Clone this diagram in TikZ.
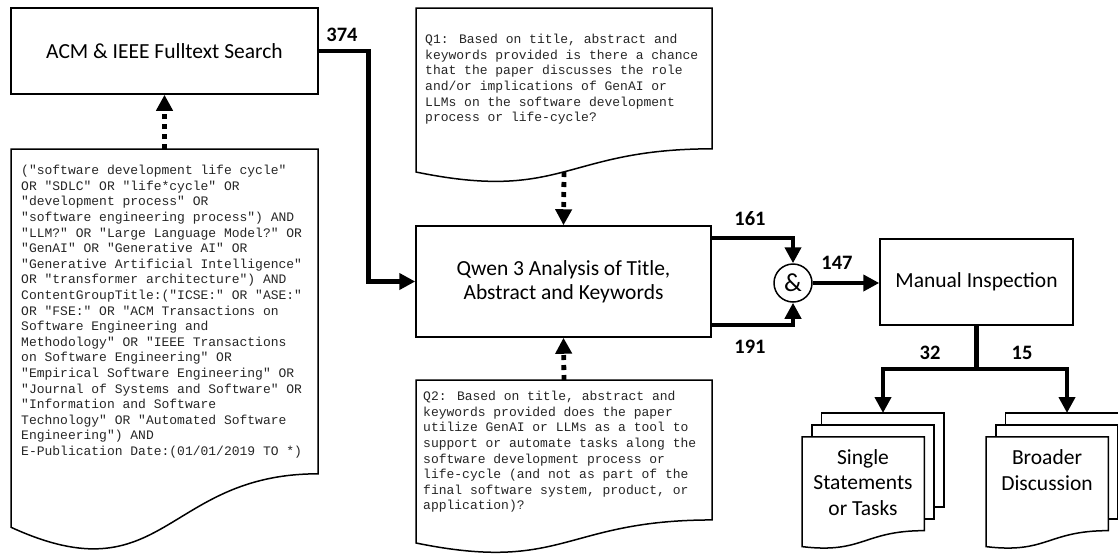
\documentclass[tikz,border=0pt]{standalone}
\usepackage{fontspec}
\setmainfont{Carlito}
\newfontfamily\monof{Liberation Mono}
\usetikzlibrary{arrows.meta}
\newcommand\mydoc[4]{% x1, top, x2, h
  \draw[box] (#1,#2) -- (#3,#2) -- (#3,{#2+0.802*#4})
    .. controls ({(#1+#3)/2},{#2+0.802*#4}) and ({(#1+#3)/2},{#2+1.1075*#4}) ..
    (#1,{#2+0.934*#4}) -- cycle;}
\newcommand\mymulti[2]{% x0, y0
  \begin{scope}[xshift=#1pt,yshift=-#2pt,x=0.6574pt,y=-0.6528pt]
    \draw[box] (29.72,0) -- (216,0) -- (216,143.92) -- (200.72,143.92) -- (200.72,18.15) -- (29.72,18.15) -- cycle;
    \draw[box] (15.32,18.15) -- (200.72,18.15) -- (200.72,162.52) -- (185.95,162.52) -- (185.95,36.75) -- (15.32,36.75) -- cycle;
    \draw[box] (0,36.75) -- (185.95,36.75) -- (185.95,180.22)
      .. controls (92.98,180.22) and (92.98,216) .. (0,204.67) -- cycle;
  \end{scope}}
\begin{document}
\begin{tikzpicture}[x=1pt,y=-1pt,
  box/.style={draw,line width=1.5pt,fill=white},
  lbl/.style={font=\fontsize{20.5}{24}\selectfont\bfseries,inner sep=0pt},
  conn/.style={line width=4.8pt,-{Triangle[length=16pt,width=16pt]}},
  dotconn/.style={line width=4.8pt,dash pattern=on 5pt off 5pt,-{Triangle[length=16pt,width=16pt]}},
  mono/.style={font=\monof\fontsize{13}{15.6}\selectfont,align=left,anchor=north west,inner sep=0pt,text=black!85},
  btext/.style={font=\fontsize{21.5}{24}\selectfont,align=center,inner sep=0pt},
]
\useasboundingbox (0,0) rectangle (1118,557);
\clip (0,0) rectangle (1118,557);
\fill[white] (0,0) rectangle (1118,557);

% boxes
\node[box,btext,minimum width=307pt,minimum height=86pt] (acm) at (164.5,51) {ACM \& IEEE Fulltext Search};
\node[box,btext,minimum width=295pt,minimum height=111pt] (qwen) at (563.5,281.5) {Qwen 3 Analysis of Title,\\Abstract and Keywords};
\node[box,btext,minimum width=193pt,minimum height=86pt] (manual) at (976.5,282) {Manual Inspection};
\node[draw,circle,line width=1.5pt,minimum size=38pt,inner sep=0pt,font=\fontsize{26}{30}\selectfont] (and) at (793,283) {\&};

% documents
\mydoc{11}{149}{318}{405}
\mydoc{416}{8}{712}{175.6}
\mydoc{416}{380}{712}{174.5}
\coordinate (qtop) at (164.5,149);
\coordinate (q1bot) at (564,172);
\coordinate (q2top) at (564,380);

\node[mono] (query) at (21,164.5) {\rule{0pt}{10pt}("software development life cycle"\\
OR "SDLC" OR "life*cycle" OR\\
"development process" OR\\
"software engineering process") AND\\
"LLM?" OR "Large Language Model?" OR\\
"GenAI" OR "Generative AI" OR\\
"Generative Artificial Intelligence"\\
OR "transformer architecture") AND\\
ContentGroupTitle:("ICSE:" OR "ASE:"\\
OR "FSE:" OR "ACM Transactions on\\
Software Engineering and\\
Methodology" OR "IEEE Transactions\\
on Software Engineering" OR\\
"Empirical Software Engineering" OR\\
"Journal of Systems and Software" OR\\
"Information and Software\\
Technology" OR "Automated Software\\
Engineering") AND\\
E-Publication Date:(01/01/2019 TO *)};

\node[mono] (q1) at (425,33.5) {\rule{0pt}{10pt}Q1: Based on title, abstract and\\
keywords provided is there a chance\\
that the paper discusses the role\\
and/or implications of GenAI or\\
LLMs on the software development\\
process or life-cycle?};

\node[mono] (q2) at (423,390.5) {\rule{0pt}{10pt}Q2: Based on title, abstract and\\
keywords provided does the paper\\
utilize GenAI or LLMs as a tool to\\
support or automate tasks along the\\
software development process or\\
life-cycle (and not as part of the\\
final software system, product, or\\
application)?};

% multi documents
\mymulti{802}{413}
\mymulti{986}{413}
\coordinate (s1top) at (883,413);
\coordinate (s2top) at (1067,413);
\node[btext,font=\fontsize{21.5}{25.5}\selectfont] (single) at (863,482.5) {Single\\Statements\\or Tasks};
\node[btext,font=\fontsize{21.5}{25.5}\selectfont] (broader) at (1047,470) {Broader\\Discussion};

% connectors
\draw[dotconn] (qtop) -- (acm.south);
\draw[dotconn] (q1bot) -- (qwen.north);
\draw[dotconn] (q2top) -- (qwen.south);
\draw[conn] (acm.east) -- ++(50,0) |- (qwen.west);
\draw[conn] ([yshift=43.5pt]qwen.east) -| (and.north);
\draw[conn] ([yshift=-43.5pt]qwen.east) -| (and.south);
\draw[conn] (and.east) -- (manual.west |- and.east);
\coordinate (split) at (976.5,369);
\draw[line width=4.8pt] (manual.south) -- (split);
\draw[line width=4.8pt,{Triangle[length=16pt,width=16pt]}-{Triangle[length=16pt,width=16pt]}] (s1top) |- (split) -| (s2top);

% labels
\node[lbl] (l374) at (342,34.5) {374};
\node[lbl] (l161) at (750,219) {161};
\node[lbl] (l191) at (750,346.5) {191};
\node[lbl] (l147) at (837,262.5) {147};
\node[lbl] (l32) at (930,353) {32};
\node[lbl] (l15) at (1022,353) {15};
\end{tikzpicture}
\end{document}
